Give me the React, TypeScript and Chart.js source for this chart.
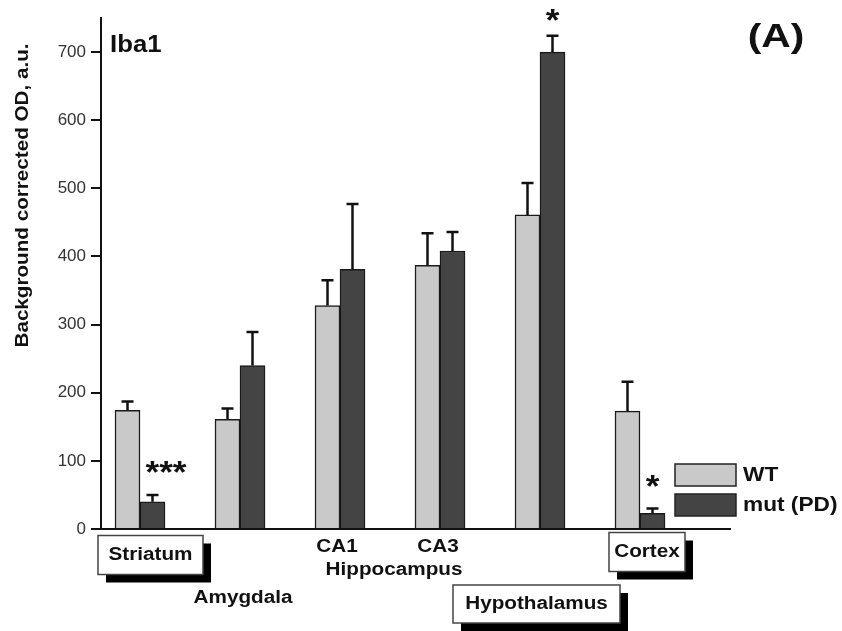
import React, { useEffect, useRef } from 'react';
import { Chart, registerables } from 'chart.js';

Chart.register(...registerables);

// ---------- data ----------
const categories = ['Striatum', 'Amygdala', 'CA1', 'CA3', 'Hypothalamus', 'Cortex'];
const categoryPositions = [1, 2, 3, 4, 5, 6];
const seriesNames = ['WT', 'mut (PD)'];
const wtValues = [174, 161, 328, 387, 461, 173];
const wtErrors = [13, 16, 37, 47, 47, 43];
const mutValues = [40, 240, 381, 408, 700, 23];
const mutErrors = [10, 49, 96, 28, 24, 7];
const yTickValues = [0, 100, 200, 300, 400, 500, 600, 700];
const significance = ['***', '', '', '', '*', '*'];
const significanceLevel = [94, 0, 0, 0, 757, 74];
const groupLabel = 'Hippocampus';
const markerName = 'Iba1';
const panelName = '(A)';
const yTitle = 'Background corrected OD, a.u.';

// ---------- styles ----------
const WT_COLOR = '#c9c9c9';
const MUT_COLOR = '#444444';
const INK = '#111111';
const FONT = '"Liberation Sans", Arial, Helvetica, sans-serif';

function drawText(
  ctx: CanvasRenderingContext2D,
  text: string,
  x: number,
  y: number,
  size: number,
  sx: number,
  align: CanvasTextAlign = 'center'
) {
  ctx.save();
  ctx.translate(x, y);
  ctx.scale(sx, 1);
  ctx.font = `bold ${size}px ${FONT}`;
  ctx.fillStyle = INK;
  ctx.textAlign = align;
  ctx.textBaseline = 'middle';
  ctx.fillText(text, 0, 0);
  ctx.restore();
}

function drawBoxLabel(
  ctx: CanvasRenderingContext2D,
  text: string,
  cx: number,
  cy: number,
  w: number,
  h: number
) {
  ctx.save();
  ctx.fillStyle = '#000';
  ctx.fillRect(cx - w / 2 + 8, cy - h / 2 + 8, w, h);
  ctx.fillStyle = '#fff';
  ctx.fillRect(cx - w / 2, cy - h / 2, w, h);
  ctx.strokeStyle = '#444';
  ctx.lineWidth = 1.5;
  ctx.strokeRect(cx - w / 2, cy - h / 2, w, h);
  ctx.restore();
  drawText(ctx, text, cx, cy, 18, 1.15);
}

const annotationPlugin = {
  id: 'annotations',
  afterDatasetsDraw(chart: any) {
    const ctx: CanvasRenderingContext2D = chart.ctx;
    const y = chart.scales.y;
    const errs = [wtErrors, mutErrors];
    const vals = [wtValues, mutValues];
    ctx.save();
    ctx.strokeStyle = INK;
    ctx.lineWidth = 2.5;
    for (let d = 0; d < 2; d++) {
      const meta = chart.getDatasetMeta(d);
      meta.data.forEach((el: any, i: number) => {
        const top = y.getPixelForValue(vals[d][i] + errs[d][i]);
        ctx.beginPath();
        ctx.moveTo(el.x, el.y);
        ctx.lineTo(el.x, top);
        ctx.moveTo(el.x - 6, top);
        ctx.lineTo(el.x + 6, top);
        ctx.stroke();
      });
    }
    ctx.restore();

    // significance marks, anchored on the mutant bar
    const mutMeta = chart.getDatasetMeta(1);
    significance.forEach((s, i) => {
      if (!s) return;
      const el: any = mutMeta.data[i];
      const cx = s.length > 1 ? el.x + el.width / 2 + 1 : el.x;
      const cy = y.getPixelForValue(significanceLevel[i]);
      ctx.save();
      ctx.translate(cx, cy + 18);
      ctx.scale(1.1, 1);
      ctx.font = `bold 32px ${FONT}`;
      ctx.fillStyle = INK;
      ctx.textAlign = 'center';
      ctx.textBaseline = 'alphabetic';
      ctx.fillText(s, 0, 0);
      ctx.restore();
    });
  },
  afterDraw(chart: any) {
    const ctx: CanvasRenderingContext2D = chart.ctx;
    const x = chart.scales.x;
    const area = chart.chartArea;
    const b = area.bottom;

    // y axis title
    ctx.save();
    ctx.translate(23, (area.top + area.bottom) / 2 - 78);
    ctx.rotate(-Math.PI / 2);
    ctx.scale(1.147, 1);
    ctx.font = `bold 18px ${FONT}`;
    ctx.fillStyle = INK;
    ctx.textAlign = 'center';
    ctx.textBaseline = 'middle';
    ctx.fillText(yTitle, 0, 0);
    ctx.restore();

    // marker name and panel letter
    drawText(ctx, markerName, area.left + 9, 46, 23, 1.12, 'left');
    drawText(ctx, panelName, 776, 38, 34, 1.2);

    // region labels
    drawBoxLabel(ctx, categories[0], x.getPixelForValue(1.105), b + 26, 105, 39);
    drawText(ctx, categories[1], x.getPixelForValue(2.03), b + 69, 18, 1.15);
    drawText(ctx, categories[2], x.getPixelForValue(2.97), b + 18, 18, 1.15);
    drawText(ctx, categories[3], x.getPixelForValue(3.98), b + 18, 18, 1.15);
    drawText(ctx, groupLabel, x.getPixelForValue(3.54), b + 41, 18, 1.15);
    drawBoxLabel(ctx, categories[4], x.getPixelForValue(4.965), b + 75, 167, 38);
    drawBoxLabel(ctx, categories[5], x.getPixelForValue(6.07), b + 23, 76, 39);

    // legend
    const colors = [WT_COLOR, MUT_COLOR];
    seriesNames.forEach((name, i) => {
      const ly = 464 + i * 30;
      ctx.save();
      ctx.fillStyle = colors[i];
      ctx.fillRect(675, ly, 61, 22);
      ctx.strokeStyle = '#222';
      ctx.lineWidth = 1.5;
      ctx.strokeRect(675, ly, 61, 22);
      ctx.restore();
      drawText(ctx, name, 743, ly + 11, 21, 1.08, 'left');
    });
  },
};

export default function App() {
  const ref = useRef<HTMLCanvasElement>(null);

  useEffect(() => {
    const canvas = ref.current;
    if (!canvas) return;
    const chart = new Chart(canvas, {
      type: 'bar',
      data: {
        datasets: [
          {
            label: seriesNames[0],
            data: categoryPositions.map((p, i) => ({ x: p, y: wtValues[i] })),
            backgroundColor: WT_COLOR,
            borderColor: '#1a1a1a',
            borderWidth: 1.5,
            barThickness: 25,
          },
          {
            label: seriesNames[1],
            data: categoryPositions.map((p, i) => ({ x: p, y: mutValues[i] })),
            backgroundColor: MUT_COLOR,
            borderColor: '#1a1a1a',
            borderWidth: 1.5,
            barThickness: 25,
          },
        ],
      },
      options: {
        responsive: false,
        animation: false,
        devicePixelRatio: 1,
        layout: { padding: { left: 8, right: 112, top: 18, bottom: 0 } },
        plugins: {
          legend: { display: false },
          tooltip: { enabled: false },
        },
        scales: {
          x: {
            type: 'linear',
            min: 0.61,
            max: 6.9,
            offset: false,
            grid: { display: false, drawTicks: false },
            ticks: { display: false },
            border: { display: true, color: INK, width: 2 },
            afterFit: (s: any) => {
              s.height = 102;
            },
          },
          y: {
            min: 0,
            max: 750,
            afterBuildTicks: (s: any) => {
              s.ticks = yTickValues.map((v) => ({ value: v }));
            },
            grid: {
              display: true,
              drawOnChartArea: false,
              drawTicks: true,
              tickLength: 10,
              color: INK,
              lineWidth: 2,
            },
            border: { display: true, color: INK, width: 2 },
            ticks: {
              padding: 5,
              color: '#333',
              font: { family: FONT, size: 17 },
            },
            afterFit: (s: any) => {
              s.width = 93;
            },
          },
        },
      },
      plugins: [annotationPlugin],
    } as any);
    return () => chart.destroy();
  }, []);

  return (
    <div style={{ position: 'absolute', left: 0, top: 0, width: 842, height: 631, background: '#fff' }}>
      <canvas ref={ref} width={842} height={631} style={{ display: 'block', width: 842, height: 631 }} />
    </div>
  );
}
